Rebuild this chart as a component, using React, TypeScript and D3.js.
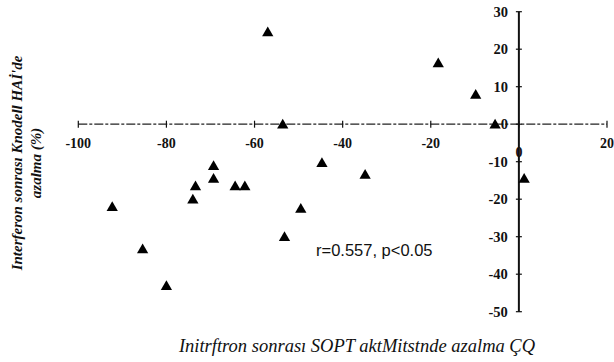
import React from "react";
import * as d3 from "d3";

const xValues = [-57.0, -53.6, -69.3, -69.3, -73.4, -64.4, -62.2, -74.0, -92.3, -49.5, -44.7, -53.2, -85.4, -80.0, -18.3, -9.8, -5.4, -34.9, 1.2];
const yValues = [24.6, 0.0, -11.1, -14.5, -16.5, -16.5, -16.5, -20.0, -22.0, -22.5, -10.3, -30.0, -33.3, -43.1, 16.3, 7.9, 0.0, -13.4, -14.5];
const xTicks = [-100, -80, -60, -40, -20, 0, 20];
const yTicks = [30, 20, 10, 0, -10, -20, -30, -40, -50];
const xTitle = "Initrftron sonrası SOPT aktMitstnde azalma ÇQ";
const yTitle1 = "Interferon sonrası Knodell HAİ'de";
const yTitle2 = "azalma (%)";
const annotation = "r=0.557, p<0.05";

const W = 614;
const H = 362;

export default function App() {
  const x = d3.scaleLinear().domain([-100, 20]).range([78.3, 607]);
  const y = d3.scaleLinear().domain([-50, 30]).range([311.7, 11.7]);
  const tri = d3.symbol().type(d3.symbolTriangle).size(55)() as string;
  const serif = "'Liberation Serif', 'Times New Roman', serif";
  const x0 = x(0);
  const y0 = y(0);
  return (
    <svg width={W} height={H} style={{ position: "absolute", left: 0, top: 0, background: "#fff" }}>
      <rect x={0} y={0} width={W} height={H} fill="#fff" />
      {/* x axis line */}
      <line x1={x(-100)} x2={x(20)} y1={y0} y2={y0} stroke="#222" strokeWidth={1.2} strokeDasharray="9 2 3 2" />
      {xTicks.map((t) => (
        <line key={"xt" + t} x1={x(t)} x2={x(t)} y1={y0 - 3.5} y2={y0 + 3.5} stroke="#111" strokeWidth={1.2} />
      ))}
      {xTicks.map((t) => (
        <text
          key={"xl" + t}
          x={x(t)}
          y={t === 0 ? y0 + 33 : y0 + 24}
          textAnchor="middle"
          fontFamily={serif}
          fontWeight="bold"
          fontSize={14}
          fill="#111"
        >
          {t}
        </text>
      ))}
      {/* y axis */}
      <line x1={x0} x2={x0} y1={y(30)} y2={y(-50)} stroke="#111" strokeWidth={2} />
      {yTicks.map((t) => (
        <line key={"yt" + t} x1={x0 - 3} x2={x0 + 3} y1={y(t)} y2={y(t)} stroke="#111" strokeWidth={1.2} />
      ))}
      {yTicks.map((t) => (
        <text
          key={"yl" + t}
          x={x0 - 11}
          y={y(t) + 5}
          textAnchor="end"
          fontFamily={serif}
          fontWeight="bold"
          fontSize={14.5}
          fill="#111"
        >
          {t}
        </text>
      ))}
      {/* points */}
      {xValues.map((v, i) => (
        <path key={"p" + i} d={tri} transform={`translate(${x(v)},${y(yValues[i]) + 1})`} fill="#000" />
      ))}
      {/* annotation */}
      <text x={316} y={256} fontFamily="'Liberation Sans', Arial, sans-serif" fontSize={16.5} fill="#111">
        {annotation}
      </text>
      {/* y title */}
      <g transform="translate(22,163) rotate(-90)">
        <text x={0} y={0} textAnchor="middle" fontFamily={serif} fontStyle="italic" fontWeight="bold" fontSize={15} fill="#111">
          {yTitle1}
        </text>
        <text x={0} y={19} textAnchor="middle" fontFamily={serif} fontStyle="italic" fontWeight="bold" fontSize={15} fill="#111">
          {yTitle2}
        </text>
      </g>
      {/* x title */}
      <text x={357} y={352} textAnchor="middle" fontFamily={serif} fontStyle="italic" fontSize={18.5} fill="#111">
        {xTitle}
      </text>
    </svg>
  );
}
